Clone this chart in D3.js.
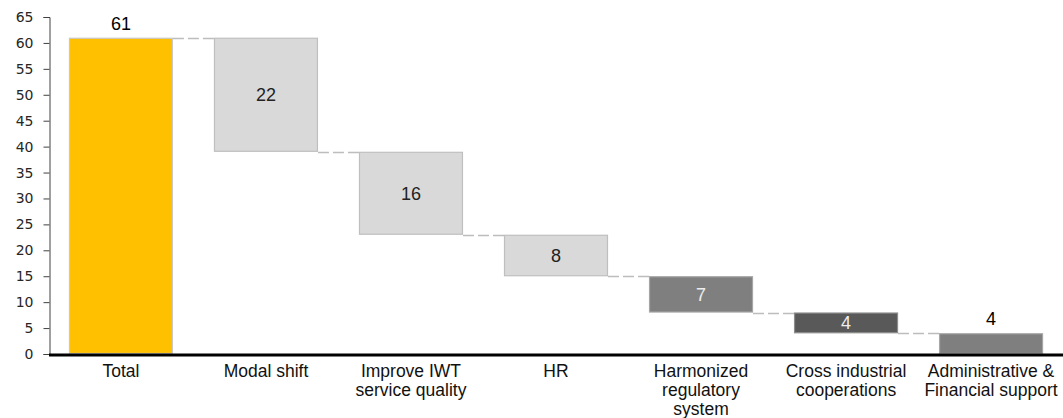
<!DOCTYPE html>
<html>
<head>
<meta charset="utf-8">
<script src="https://cdn.jsdelivr.net/npm/d3@7"></script>
<style>
  html, body { margin: 0; padding: 0; background: #fff; }
  svg { display: block; }
</style>
</head>
<body>
<svg id="chart" width="1063" height="418"></svg>
<script>
// Waterfall: total potential broken down by measure
const categories = [
  "Total", "Modal shift", "Improve IWT service quality", "HR",
  "Harmonized regulatory system", "Cross industrial cooperations",
  "Administrative & Financial support"
];
const categoryLines = [
  ["Total"], ["Modal shift"], ["Improve IWT", "service quality"], ["HR"],
  ["Harmonized", "regulatory", "system"], ["Cross industrial", "cooperations"],
  ["Administrative &", "Financial support"]
];
const values = [61, 22, 16, 8, 7, 4, 4];
const yTicks = [0, 5, 10, 15, 20, 25, 30, 35, 40, 45, 50, 55, 60, 65];

// bar appearance per category
const fills   = ["#FFC000", "#D9D9D9", "#D9D9D9", "#D9D9D9", "#7F7F7F", "#595959", "#7F7F7F"];
const strokes = ["#C8C8C8", "#BFBFBF", "#BFBFBF", "#BFBFBF", "#A6A6A6", "#8C8C8C", "#A6A6A6"];
const labelColors = ["#000", "#222", "#222", "#222", "#EDEDED", "#EDEDED", "#000"];

// running levels: first bar stands on zero, the others step down from it
let level = values[0];
const bars = values.map((v, i) => {
  if (i === 0) return { i, v, y0: 0, y1: v };
  const b = { i, v, y0: level - v, y1: level };
  level -= v;
  return b;
});

const svg = d3.select("#chart");
const x = d3.scaleBand()
  .domain(categories)
  .range([48.5, 1063.5])
  .paddingInner(0.283)
  .paddingOuter(0.141);
const y = d3.scaleLinear().domain([0, 65]).range([354, 17]);

// y axis
const yAxis = svg.append("g")
  .attr("transform", "translate(49.5,0)")
  .call(d3.axisLeft(y).tickValues(yTicks).tickSize(6).tickPadding(10));
yAxis.select(".domain").attr("stroke", "#404040");
yAxis.selectAll(".tick line").attr("stroke", "#404040");
yAxis.selectAll(".tick text")
  .attr("fill", "#262626")
  .style("font-family", "'DejaVu Sans', Verdana, sans-serif")
  .style("font-size", "14px");

// connectors between consecutive bars
const connectors = bars.slice(0, -1).map((b, k) => {
  const next = bars[k + 1];
  return { x1: x(categories[k]) + x.bandwidth(), x2: x(categories[k + 1]), v: next.y1 };
});
svg.append("g").selectAll("line")
  .data(connectors)
  .join("line")
  .attr("x1", d => d.x1)
  .attr("x2", d => d.x2)
  .attr("y1", d => Math.round(y(d.v)) + 0.5)
  .attr("y2", d => Math.round(y(d.v)) + 0.5)
  .attr("stroke", "#BDBDBD")
  .attr("stroke-width", 1.4)
  .attr("stroke-dasharray", "11,4");

// bars
svg.append("g").selectAll("rect")
  .data(bars)
  .join("rect")
  .attr("x", d => x(categories[d.i]) + 0.5)
  .attr("y", d => y(d.y1) + 0.5)
  .attr("width", x.bandwidth() - 1)
  .attr("height", d => y(d.y0) - y(d.y1) - 1)
  .attr("fill", d => fills[d.i])
  .attr("stroke", d => strokes[d.i])
  .attr("stroke-width", 1.2);

// value labels: first and last above the bar, others centred inside
const last = bars.length - 1;
svg.append("g").selectAll("text")
  .data(bars)
  .join("text")
  .attr("x", d => x(categories[d.i]) + x.bandwidth() / 2)
  .attr("y", d => (d.i === 0 || d.i === last)
    ? y(d.y1) - 8
    : (y(d.y0) + y(d.y1)) / 2)
  .attr("dy", d => (d.i === 0 || d.i === last) ? 0 : "0.36em")
  .attr("text-anchor", "middle")
  .attr("fill", d => labelColors[d.i])
  .style("font-family", "'Liberation Sans', Arial, sans-serif")
  .style("font-size", "18px")
  .text(d => d.v);

// baseline
svg.append("line")
  .attr("x1", 49).attr("x2", 1063)
  .attr("y1", y(0) + 1).attr("y2", y(0) + 1)
  .attr("stroke", "#000")
  .attr("stroke-width", 3);

// category labels
const cat = svg.append("g").selectAll("text")
  .data(categories)
  .join("text")
  .attr("x", d => x(d) + x.bandwidth() / 2)
  .attr("y", 377)
  .attr("text-anchor", "middle")
  .attr("fill", "#111")
  .style("font-family", "'Liberation Sans', Arial, sans-serif")
  .style("font-size", "17.5px");
cat.selectAll("tspan")
  .data((d, i) => categoryLines[i])
  .join("tspan")
  .attr("x", function () { return this.parentNode.getAttribute("x"); })
  .attr("dy", (d, j) => j === 0 ? 0 : 19)
  .text(d => d);
</script>
</body>
</html>
